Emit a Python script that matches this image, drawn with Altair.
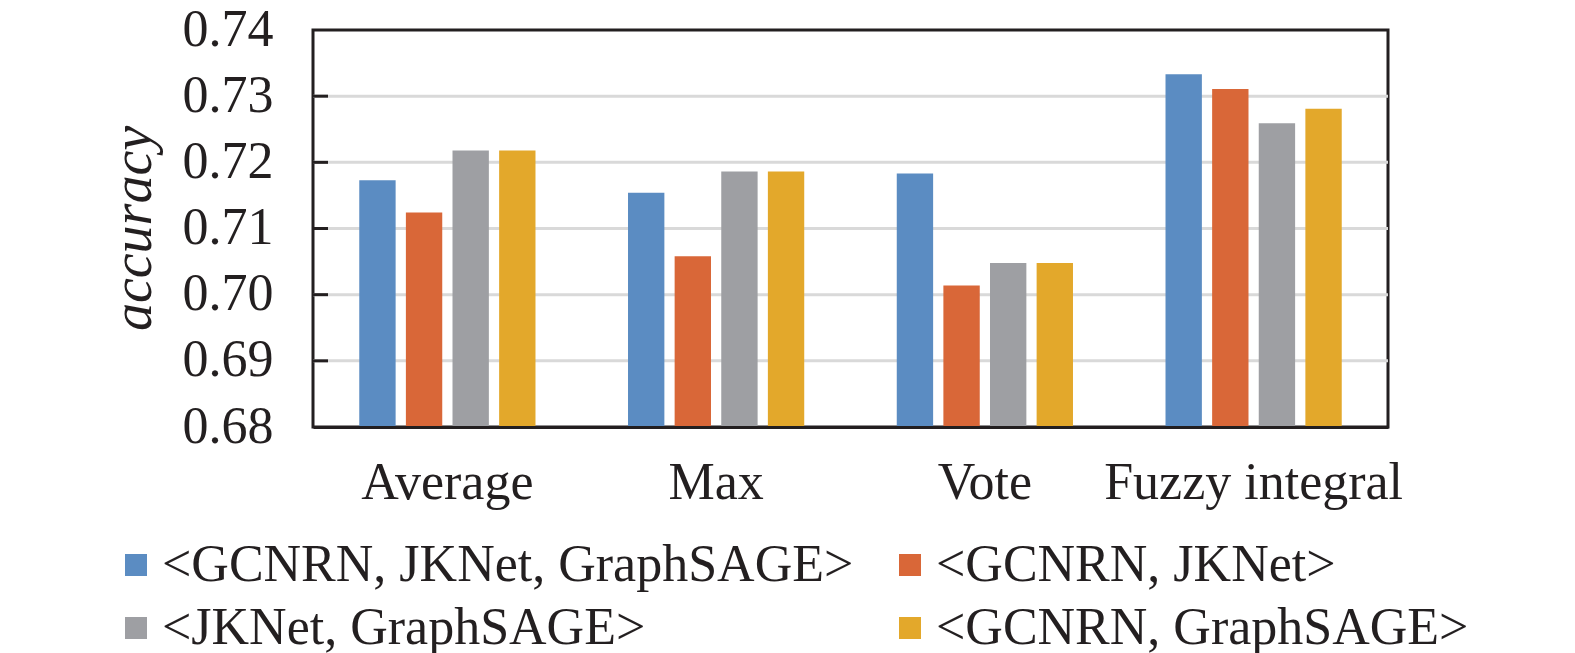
import altair as alt
import pandas as pd

methods = ["Average", "Max", "Vote", "Fuzzy integral"]
series = ["<GCNRN, JKNet, GraphSAGE>", "<GCNRN, JKNet>", "<JKNet, GraphSAGE>", "<GCNRN, GraphSAGE>"]
colors = ["#5B8CC2", "#D96738", "#9E9FA3", "#E3A82B"]
vals_all3 = [0.7173, 0.7154, 0.7183, 0.7333]
vals_gj = [0.7124, 0.7058, 0.7014, 0.7311]
vals_jg = [0.7218, 0.7186, 0.7048, 0.7259]
vals_gg = [0.7218, 0.7186, 0.7048, 0.7281]
tick_vals = [0.69, 0.70, 0.71, 0.72, 0.73]
axis_vals = [0.68, 0.69, 0.70, 0.71, 0.72, 0.73, 0.74]

rows = []
for s, vals in zip(series, [vals_all3, vals_gj, vals_jg, vals_gg]):
    for m, v in zip(methods, vals):
        rows.append({"method": m, "series": s, "value": v})
df = pd.DataFrame(rows)
ticks_df = pd.DataFrame({"value": tick_vals})

FONT = "Liberation Serif"
TXT = "#231f20"
yscale = alt.Scale(domain=[0.68, 0.74], zero=False, nice=False)
y_axis = alt.Axis(title="accuracy", values=axis_vals,
                  format=".2f", ticks=False, tickSize=0, domain=False, grid=False,
                  labelFont=FONT, labelFontSize=52, labelColor=TXT, labelPadding=40,
                  labelOffset=-1,
                  titleFont=FONT, titleFontSize=56, titleFontStyle="italic",
                  titleFontWeight="normal", titleColor=TXT,
                  titleX=-151, titleY=198)

grid = alt.Chart(ticks_df).mark_rule(color="#D9D9D9", strokeWidth=3).encode(
    y=alt.Y("value:Q", scale=yscale, axis=y_axis),
)

bars = alt.Chart(df).mark_bar(clip=True).encode(
    x=alt.X("method:N", sort=methods,
            scale=alt.Scale(paddingInner=0.32, paddingOuter=0.16),
            axis=alt.Axis(title=None, labelAngle=0, ticks=False, tickSize=0,
                          domain=True, domainColor=TXT, domainWidth=3, zindex=1,
                          labelFont=FONT, labelFontSize=52, labelColor=TXT, labelPadding=30,
                          labelLimit=600)),
    xOffset=alt.XOffset("series:N", sort=series,
                        scale=alt.Scale(paddingInner=0.22, paddingOuter=0.07)),
    y=alt.Y("value:Q", scale=yscale, axis=y_axis),
    color=alt.Color("series:N", sort=series,
                    scale=alt.Scale(domain=series, range=colors),
                    legend=alt.Legend(title=None, orient="none", legendX=-203, legendY=509,
                                      direction="horizontal",
                                      columns=2, columnPadding=30, rowPadding=11,
                                      symbolType="square", symbolSize=484,
                                      symbolStrokeWidth=0, labelOffset=0,
                                      labelFont=FONT, labelFontSize=52, labelColor=TXT,
                                      labelLimit=2000, padding=0)),
)

tick_marks = alt.Chart(ticks_df).mark_rule(color=TXT, strokeWidth=3).encode(
    y=alt.Y("value:Q", scale=yscale, axis=y_axis),
    x=alt.value(0),
    x2=alt.value(15),
)

chart = alt.layer(grid, bars, tick_marks).properties(
    width=1075, height=397,
    autosize=alt.AutoSizeParams(type="none"),
    padding={"left": 305, "top": 22, "right": 179, "bottom": 230},
).configure(background="white").configure_view(stroke=TXT, strokeWidth=3)

chart.save("out.html", embed_options={"renderer": "svg", "actions": False})
